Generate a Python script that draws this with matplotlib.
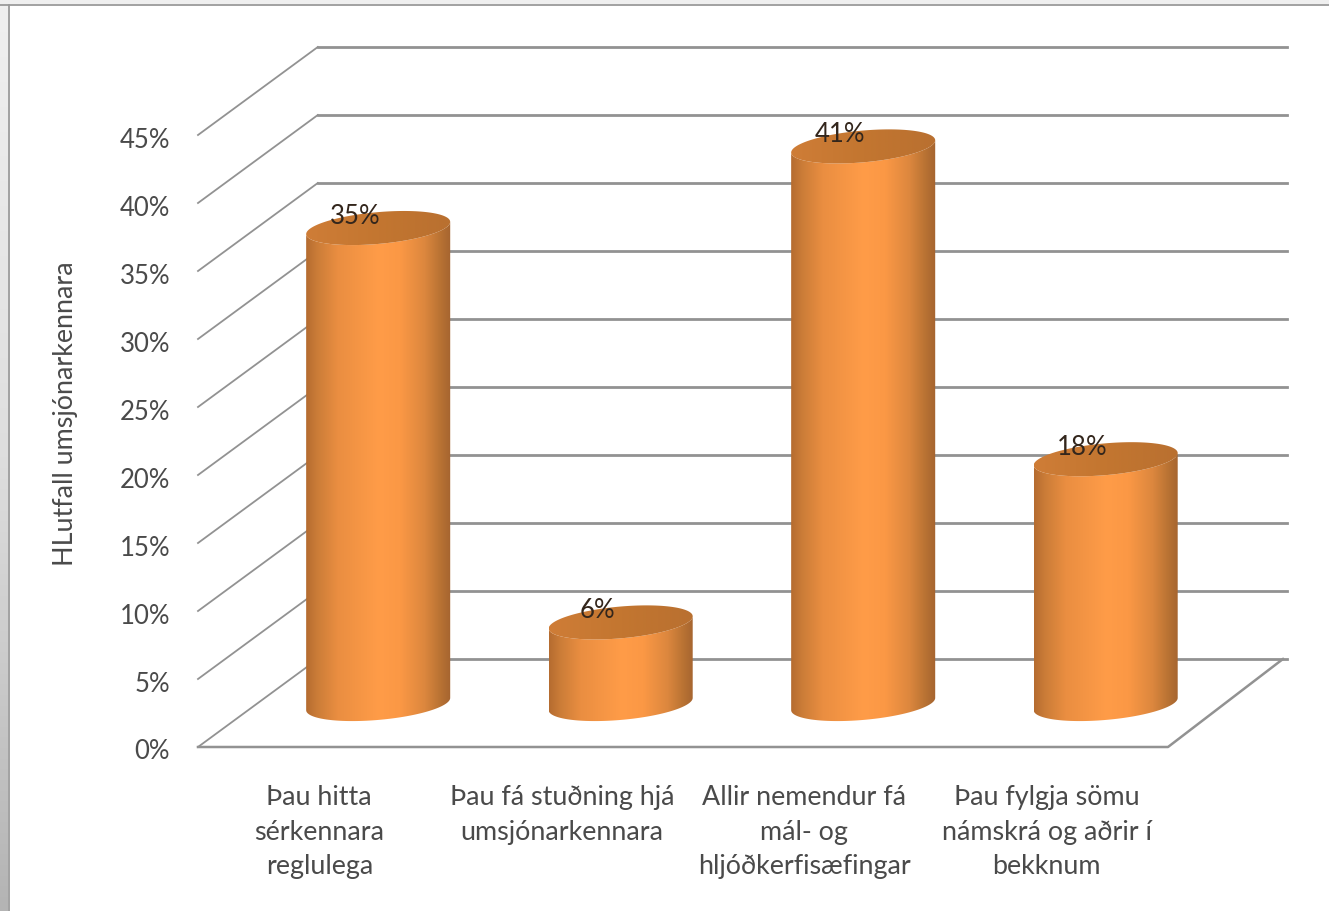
import numpy as np
import matplotlib
matplotlib.use("Agg")
import matplotlib.pyplot as plt
from matplotlib.colors import LinearSegmentedColormap
from matplotlib.patches import Polygon, Rectangle
from matplotlib.lines import Line2D
from matplotlib.transforms import ScaledTranslation

categories = ["Þau hitta\nsérkennara\nreglulega",
              "Þau fá stuðning hjá\numsjónarkennara",
              "Allir nemendur fá\nmál- og\nhljóðkerfisæfingar",
              "Þau fylgja sömu\nnámskrá og aðrir í\nbekknum"]
values = [35, 6, 41, 18]
value_labels = ["35%", "6%", "41%", "18%"]
y_ticks = [0, 5, 10, 15, 20, 25, 30, 35, 40, 45]
y_tick_labels = ["0%", "5%", "10%", "15%", "20%", "25%", "30%", "35%", "40%", "45%"]
y_title = "HLutfall umsjónarkennara"

W, H = 1329, 912
FONT = "Lato"
TXT = "#4a4a4a"
GRID = "#929292"

fig = plt.figure(figsize=(W / 100, H / 100), dpi=100, facecolor="white")

# slide frame
fig.add_artist(Rectangle((0, 1 - 5 / H), 1, 5 / H, transform=fig.transFigure, fc="#efefef", ec="none"))
strip = fig.add_axes([0, 0, 8 / W, 1 - 5 / H], zorder=-1)
strip.imshow(np.linspace(0, 1, 256).reshape(-1, 1), aspect="auto", vmin=0, vmax=1,
             cmap=LinearSegmentedColormap.from_list("s", ["#f0f0f0", "#dedede", "#b4b4b4"]))
strip.axis("off")
fig.add_artist(Line2D([0, 1], [1 - 6 / H] * 2, transform=fig.transFigure, color="#9a9a9a", lw=1.3))
fig.add_artist(Line2D([8.5 / W] * 2, [0, 1 - 6 / H], transform=fig.transFigure, color="#9a9a9a", lw=1.3))

# main axes: front plane of the 3-D box
ax = fig.add_axes([198 / W, 1 - 748 / H, 970 / W, 612 / H])
ax.patch.set_alpha(0)
for s in ax.spines.values():
    s.set_visible(False)

DX, DY = 0.494, 6.47          # depth of the box, in data units
BAR_DX, BAR_DY = 0.243, 3.16  # bar centre offset from the front plane
HW = 0.297                    # bar half width
E_B, E_C = 1.17, 0.45         # cap half height and tilt, in data units

# walls and floor
for v in y_ticks:
    ax.plot([-0.5, -0.5 + DX], [v, v + DY], color=GRID, lw=1.3, clip_on=False, zorder=1)
    ax.plot([-0.5 + DX, 3.5 + DX - 0.004], [v + DY, v + DY], color=GRID, lw=2.0, clip_on=False, zorder=1)
ax.plot([-0.5, 3.5, 3.5 + DX - 0.02], [0, 0, DY], color=GRID, lw=1.8, clip_on=False, zorder=1)

side = LinearSegmentedColormap.from_list("side", [
    (0.00, "#b56c30"), (0.08, "#cc7d38"), (0.22, "#ea8e41"), (0.50, "#ff9c48"),
    (0.65, "#fb9845"), (0.82, "#dc873e"), (0.93, "#b87233"), (1.00, "#a56430")])
cap = LinearSegmentedColormap.from_list("cap", ["#cf7d37", "#c37630", "#b97030"])
t = np.linspace(0, 2 * np.pi, 181)
grad = np.linspace(0, 1, 256).reshape(1, -1)

for i, v in enumerate(values):
    cx = i + BAR_DX
    low, top = BAR_DY, v + BAR_DY
    # body: lower half of the base ellipse, then the lower edge of the top ellipse
    tf = np.linspace(np.pi, 2 * np.pi, 90)
    base = np.c_[cx + HW * np.cos(tf), low + E_B * np.sin(tf) + E_C * np.cos(tf)]
    upper = np.c_[cx + HW * np.cos(tf[::-1]), top + E_B * np.sin(tf[::-1]) + E_C * np.cos(tf[::-1])]
    body = Polygon(np.r_[base, upper], closed=True, fc="none", ec="none", transform=ax.transData)
    ax.add_patch(body)
    im = ax.imshow(grad, cmap=side, aspect="auto", zorder=3, vmin=0, vmax=1,
                   extent=[cx - HW, cx + HW, low - 3, top + 3])
    im.set_clip_box(fig.bbox)
    im.set_clip_path(body)
    lid = Polygon(np.c_[cx + HW * np.cos(t), top + E_B * np.sin(t) + E_C * np.cos(t)],
                  closed=True, fc="none", ec="none", transform=ax.transData)
    ax.add_patch(lid)
    im2 = ax.imshow(grad, cmap=cap, aspect="auto", zorder=4, vmin=0, vmax=1,
                    extent=[cx - HW, cx + HW, top - 3, top + 3])
    im2.set_clip_box(fig.bbox)
    im2.set_clip_path(lid)
    ax.text(cx - 0.095, top + 0.95, value_labels[i], ha="center", va="center",
            fontsize=18.5, family=FONT, color="#33261c", zorder=5, clip_on=False)

ax.set_xlim(-0.5, 3.5)
ax.set_ylim(0, 45)
ax.set_yticks(y_ticks, y_tick_labels, fontsize=18.5, family=FONT, color=TXT)
ax.set_xticks(range(len(categories)), categories, fontsize=19.4, family=FONT, color=TXT, linespacing=1.49)
ax.tick_params(axis="both", length=0)
ax.tick_params(axis="y", pad=20)
ax.tick_params(axis="x", pad=26.5)
for lab in ax.get_xticklabels():
    lab.set_verticalalignment("top")
shift = ScaledTranslation(0, -1.5 / 100, fig.dpi_scale_trans)
for lab in ax.get_yticklabels():
    lab.set_transform(lab.get_transform() + shift)
ax.set_ylabel(y_title, fontsize=19.4, family=FONT, color=TXT)
ax.yaxis.set_label_coords(-0.1235, 0.547)

fig.savefig("out.png", dpi=100)
